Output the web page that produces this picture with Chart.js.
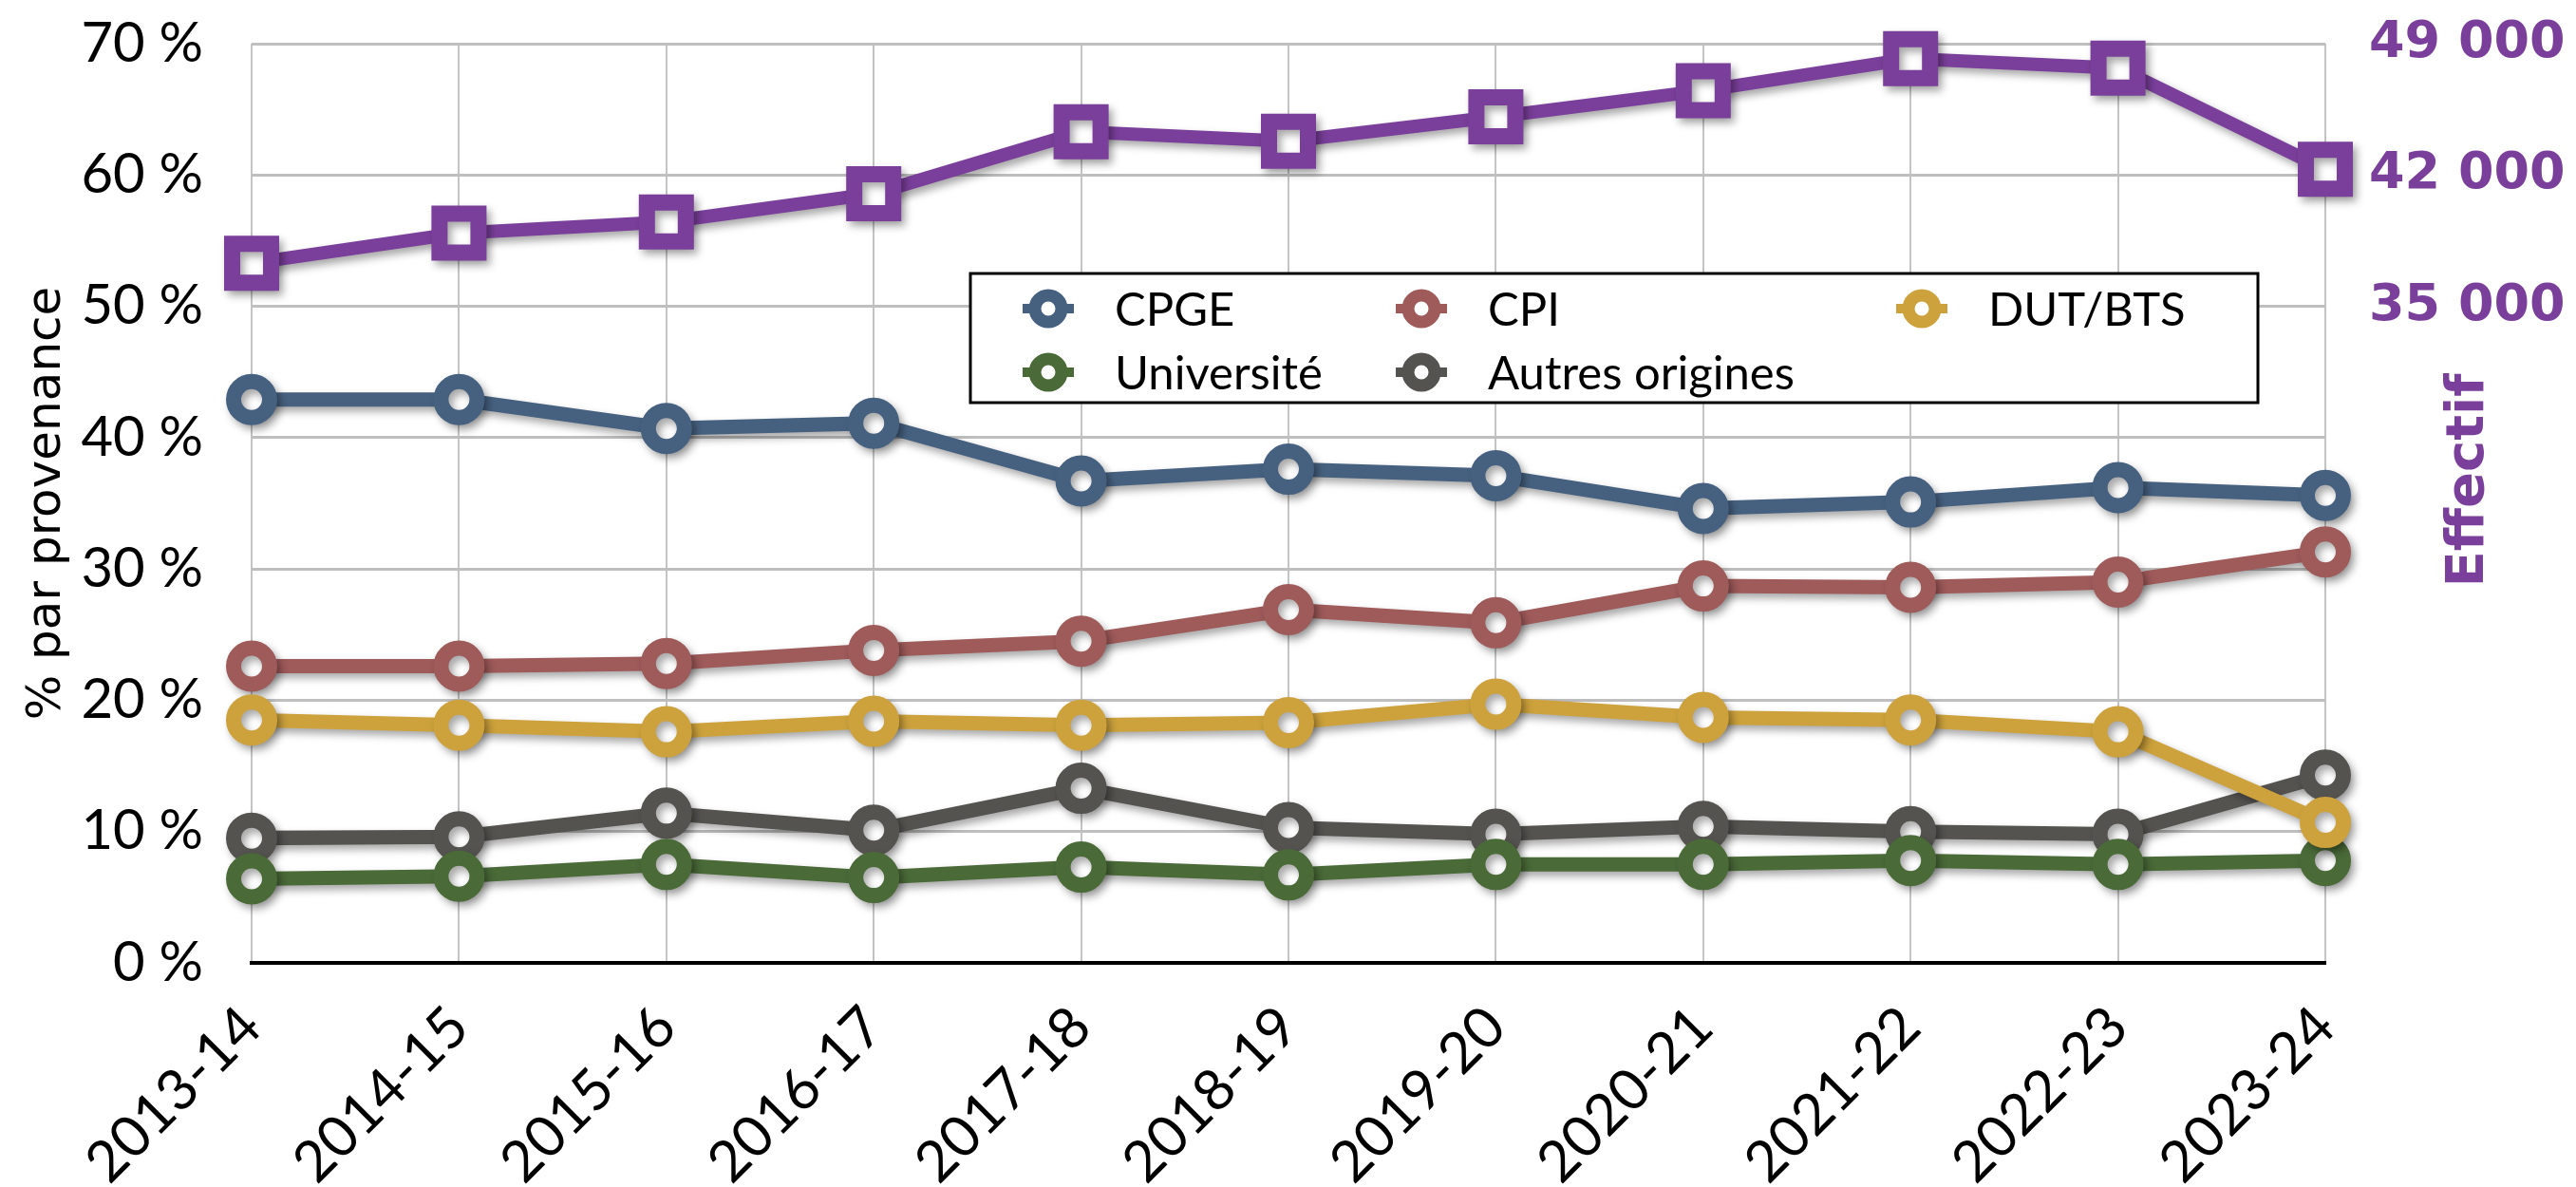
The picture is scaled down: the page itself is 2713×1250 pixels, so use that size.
<!DOCTYPE html>
<html lang="fr">
<head>
<meta charset="utf-8">
<title>Provenance des effectifs</title>
<script src="https://cdn.jsdelivr.net/npm/chart.js@4/dist/chart.umd.min.js"></script>
<style>
    html, body { margin: 0; padding: 0; background: #ffffff; }
    #wrap { position: relative; width: 2713px; height: 1250px; }
</style>
</head>
<body>
<div id="wrap"><canvas id="chartProvenance"></canvas></div>
<script>
// --- Données ---
const annees = ['2013-14', '2014-15', '2015-16', '2016-17', '2017-18', '2018-19', '2019-20', '2020-21', '2021-22', '2022-23', '2023-24'];

// % par provenance
const cpge       = [42.9, 42.9, 40.7, 41.1, 36.7, 37.6, 37.1, 34.6, 35.1, 36.2, 35.6];
const cpi        = [22.6, 22.6, 22.8, 23.8, 24.5, 26.9, 25.9, 28.7, 28.6, 29.0, 31.3];
const dutBts     = [18.5, 18.1, 17.6, 18.4, 18.1, 18.3, 19.7, 18.7, 18.5, 17.6, 10.7];
const universite = [6.4, 6.6, 7.5, 6.5, 7.3, 6.7, 7.5, 7.5, 7.8, 7.5, 7.8];
const autres     = [9.5, 9.6, 11.4, 10.1, 13.3, 10.3, 9.8, 10.4, 10.0, 9.8, 14.3];

// Effectif total (axe de droite)
const effectif = [37300, 38900, 39500, 41000, 44300, 43800, 45100, 46500, 48200, 47700, 42300];

// Graduations
const ticksPct = [0, 10, 20, 30, 40, 50, 60, 70];
const ticksEffectif = [35000, 42000, 49000];

const couleurs = {
    cpge: '#466180',
    cpi: '#9f5a5a',
    dut: '#cda23c',
    univ: '#4a6a38',
    autres: '#545350',
    effectif: '#7a3f9b'
};

// Légende (ordre Excel : ligne par ligne)
const legende = [
    { label: 'CPGE', color: couleurs.cpge, col: 0, row: 0 },
    { label: 'CPI', color: couleurs.cpi, col: 1, row: 0 },
    { label: 'DUT/BTS', color: couleurs.dut, col: 2, row: 0 },
    { label: 'Université', color: couleurs.univ, col: 0, row: 1 },
    { label: 'Autres origines', color: couleurs.autres, col: 1, row: 1 }
];

function formatMilliers(v) {
    return String(v).replace(/\B(?=(\d{3})+(?!\d))/g, ' ');
}

function serie(label, data, color) {
    return {
        label: label,
        data: data,
        yAxisID: 'y',
        borderColor: color,
        borderWidth: 15,
        pointStyle: 'circle',
        pointRadius: 19,
        pointHoverRadius: 19,
        pointBorderWidth: 16,
        pointBorderColor: color,
        pointBackgroundColor: '#ffffff',
        tension: 0,
        clip: false
    };
}

// Pas de marge automatique autour de la zone de tracé
function sansMarge(scale) {
    scale.paddingTop = 0;
    scale.paddingBottom = 0;
    scale.paddingLeft = 0;
    scale.paddingRight = 0;
}

// Ombre portée sous les courbes
const ombrePlugin = {
    id: 'ombre',
    beforeDatasetsDraw(chart) {
        const ctx = chart.ctx;
        ctx.save();
        ctx.shadowColor = 'rgba(0, 0, 0, 0.35)';
        ctx.shadowBlur = 9;
        ctx.shadowOffsetX = 4;
        ctx.shadowOffsetY = 5;
    },
    afterDatasetsDraw(chart) {
        chart.ctx.restore();
    }
};

// Légende encadrée dans la zone de tracé + titre de l'axe droit
const legendePlugin = {
    id: 'legendeCadre',
    afterDraw(chart) {
        const ctx = chart.ctx;
        const box = { x: 1022, y: 288, w: 1356, h: 136 };
        const colX = [1104, 1497, 2024];
        const rowY = [325, 392];

        ctx.save();
        ctx.fillStyle = '#ffffff';
        ctx.fillRect(box.x, box.y, box.w, box.h);
        ctx.lineWidth = 3;
        ctx.strokeStyle = '#000000';
        ctx.strokeRect(box.x, box.y, box.w, box.h);

        legende.forEach(function(item) {
            const cx = colX[item.col];
            const cy = rowY[item.row];
            ctx.strokeStyle = item.color;
            ctx.lineWidth = 10;
            ctx.beginPath();
            ctx.moveTo(cx - 27, cy);
            ctx.lineTo(cx + 27, cy);
            ctx.stroke();
            ctx.lineWidth = 13;
            ctx.fillStyle = '#ffffff';
            ctx.beginPath();
            ctx.arc(cx, cy, 14, 0, Math.PI * 2);
            ctx.fill();
            ctx.stroke();

            ctx.fillStyle = '#000000';
            ctx.font = '49px Lato';
            ctx.textAlign = 'left';
            ctx.textBaseline = 'middle';
            ctx.fillText(item.label, cx + 70, cy + 2);
        });

        // Titre de l'axe de droite
        ctx.translate(2600, 506);
        ctx.rotate(-Math.PI / 2);
        ctx.fillStyle = couleurs.effectif;
        ctx.font = 'bold 56px "DejaVu Sans"';
        ctx.textAlign = 'center';
        ctx.textBaseline = 'middle';
        ctx.fillText('Effectif', 0, 0);
        ctx.restore();
    }
};

const ctx = document.getElementById('chartProvenance');

new Chart(ctx, {
    type: 'line',
    data: {
        labels: annees,
        datasets: [
            {
                label: 'Effectif',
                data: effectif,
                yAxisID: 'y2',
                borderColor: couleurs.effectif,
                borderWidth: 14,
                pointStyle: 'rect',
                pointRadius: 29,
                pointHoverRadius: 29,
                pointBorderWidth: 17,
                pointBorderColor: couleurs.effectif,
                pointBackgroundColor: '#ffffff',
                tension: 0,
                clip: false
            },
            serie('DUT/BTS', dutBts, couleurs.dut),
            serie('Université', universite, couleurs.univ),
            serie('Autres origines', autres, couleurs.autres),
            serie('CPI', cpi, couleurs.cpi),
            serie('CPGE', cpge, couleurs.cpge)
        ]
    },
    options: {
        responsive: true,
        maintainAspectRatio: false,
        animation: false,
        layout: {
            padding: { top: 38, left: 0, right: 0, bottom: 0 }
        },
        plugins: {
            legend: { display: false },
            tooltip: { enabled: false }
        },
        scales: {
            x: {
                afterFit: function(scale) { scale.height = 236; sansMarge(scale); },
                grid: {
                    color: '#c4c4c4',
                    lineWidth: 2,
                    drawTicks: false
                },
                border: { color: '#000000', width: 4 },
                ticks: {
                    minRotation: 45,
                    maxRotation: 45,
                    padding: 32,
                    color: '#000000',
                    font: { family: 'Lato', size: 60 }
                }
            },
            y: {
                position: 'left',
                min: 0,
                max: 70,
                afterFit: function(scale) { scale.width = 265; sansMarge(scale); },
                afterBuildTicks: function(scale) {
                    scale.ticks = ticksPct.map(function(v) { return { value: v }; });
                },
                grid: {
                    color: '#bfbfbf',
                    lineWidth: 3,
                    drawTicks: false
                },
                border: { display: false },
                ticks: {
                    padding: 51,
                    color: '#000000',
                    font: { family: 'Lato', size: 58 },
                    callback: function(v) { return v + ' %'; }
                },
                title: {
                    display: true,
                    text: '% par provenance',
                    color: '#000000',
                    padding: { top: 20, bottom: 0 },
                    font: { family: 'DejaVu Sans', size: 50 }
                }
            },
            y2: {
                position: 'right',
                min: 0,
                max: 49000,
                afterFit: function(scale) { scale.width = 264; sansMarge(scale); },
                afterBuildTicks: function(scale) {
                    scale.ticks = ticksEffectif.map(function(v) { return { value: v }; });
                },
                grid: { display: false, drawTicks: false },
                border: { display: false },
                ticks: {
                    padding: 46,
                    color: couleurs.effectif,
                    font: { family: 'DejaVu Sans', size: 54, weight: 'bold' },
                    callback: function(v) { return formatMilliers(v); }
                }
            }
        }
    },
    plugins: [ombrePlugin, legendePlugin]
});
</script>
</body>
</html>
